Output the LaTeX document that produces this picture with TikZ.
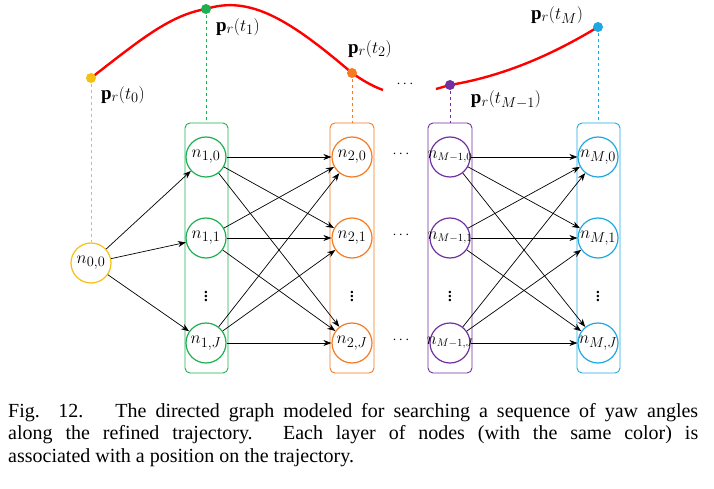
\documentclass[tikz,border=0pt]{standalone}
\usepackage{fontspec}
\setmainfont{Liberation Serif}
\usetikzlibrary{arrows.meta}
\definecolor{cY}{HTML}{F5C010}
\definecolor{cG}{HTML}{1DB050}
\definecolor{cO}{HTML}{F57A20}
\definecolor{cP}{HTML}{7030A0}
\definecolor{cB}{HTML}{1CA8E0}
\newcommand{\zb}[1]{\makebox[0pt]{#1}}
\begin{document}
\begin{tikzpicture}[x=1pt,y=-1pt,
  nd/.style={circle,draw=#1,line width=1.2pt,minimum size=40pt,inner sep=0pt,font=\fontsize{19}{20}\selectfont},
  box/.style={draw=#1,line width=0.9pt,rounded corners=5pt},
  dash/.style={draw=#1,dashed,line width=0.8pt},
  pt/.style={circle,fill=#1,inner sep=0pt,minimum size=10pt},
  ar/.style={-{Stealth[length=8pt,width=6pt]},line width=0.7pt},
  dt/.style={inner sep=0pt,font=\fontsize{15}{16}\selectfont\bfseries},
  lab/.style={font=\fontsize{19}{20}\selectfont}]
\useasboundingbox (0,0) rectangle (714,489);
% boxes
\draw[box=cG] (185,123) rectangle (228,373);
\draw[box=cO] (330,123) rectangle (374,373);
\draw[box=cP] (428,123) rectangle (472,373);
\draw[box=cB] (577,123) rectangle (620,373);
% nodes
\node[nd=cY] (n0) at (91,263) {\zb{$n_{0,0}$}};
\foreach \c/\x/\col/\s/\f in {1/206/cG/1/19,2/352/cO/2/19,3/450/cP/{M-1}/16,4/598/cB/M/19}{
  \node[nd=\col,font=\fontsize{\f}{20}\selectfont] (a\c) at (\x,157) {\zb{$n_{\s,0}$}};
  \node[nd=\col,font=\fontsize{\f}{20}\selectfont] (b\c) at (\x,238) {\zb{$n_{\s,1}$}};
  \node[nd=\col,font=\fontsize{\f}{20}\selectfont] (c\c) at (\x,343) {\zb{$n_{\s,J}$}};
  \node[dt] (d\c) at (\x,293) {$\vdots$};
}
\foreach \y [count=\i] in {157,238,343}{\node[dt] (h\i) at (401,\y-3) {$\cdots$};}
% edges
\foreach \t in {a1,b1,c1} \draw[ar] (n0) -- (\t);
\foreach \s in {a,b,c}{\foreach \t in {a,b,c}{
  \draw[ar] (\s1) -- (\t2);
  \draw[ar] (\s3) -- (\t4);}}
% trajectory
\coordinate (p0) at (91,78);
\coordinate (p1) at (206,9);
\coordinate (p2) at (352,73);
\coordinate (p3) at (450,85);
\coordinate (p4) at (598,27);
\coordinate (e1) at (383,90);
\coordinate (e2) at (436,89);
\draw[red,line width=2.4pt] (p0) .. controls (140,40) and (170,15) .. (p1)
  .. controls (250,-5) and (290,20) .. (p2) .. controls (362,80) and (372,86) .. (e1);
\draw[red,line width=2.4pt] (e2) -- (p3) .. controls (510,75) and (560,50) .. (p4);
\node[dt] (hd) at (405,84) {$\cdots$};
\draw[dash=cY] (p0) -- (n0);
\draw[dash=cG] (p1) -- (206,123);
\draw[dash=cO] (p2) -- (352,123);
\draw[dash=cP] (p3) -- (450,123);
\draw[dash=cB] (p4) -- (598,123);
\node[pt=cY] at (p0) {};
\node[pt=cG] at (p1) {};
\node[pt=cO] at (p2) {};
\node[pt=cP] at (p3) {};
\node[pt=cB] at (p4) {};
\node[lab] (l0) at (123,95) {$\mathbf{p}_r(t_0)$};
\node[lab] (l1) at (238,27) {$\mathbf{p}_r(t_1)$};
\node[lab] (l2) at (370,49) {$\mathbf{p}_r(t_2)$};
\node[lab] (l3) at (506,100) {$\mathbf{p}_r(t_{M-1})$};
\node[lab] (l4) at (557,15) {$\mathbf{p}_r(t_M)$};
% caption
\node[anchor=north west,text width=690pt,align=justify,inner sep=0pt,font=\fontsize{20}{22.5}\selectfont] (cap) at (8,403)
{Fig. 12.\hspace{1.6em}The directed graph modeled for searching a sequence of yaw angles\linebreak along the refined trajectory. Each layer of nodes (with the same color) is\linebreak associated with a position on the trajectory.};
\end{tikzpicture}
\end{document}
